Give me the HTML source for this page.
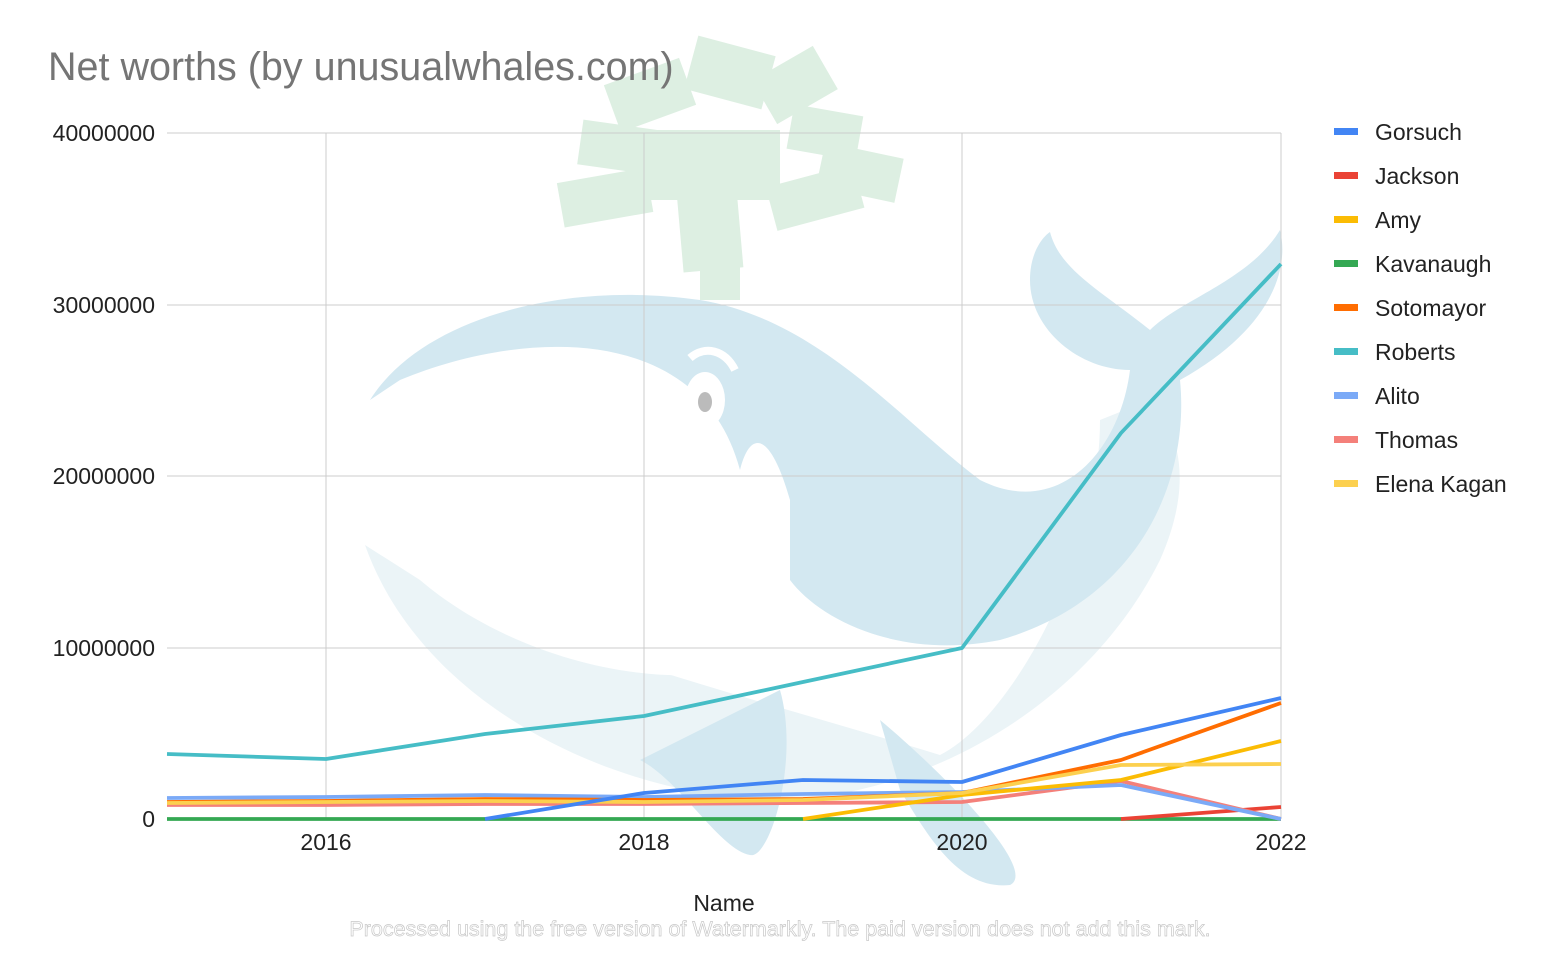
<!DOCTYPE html>
<html><head><meta charset="utf-8"><style>
html,body{margin:0;padding:0;background:#fff;}
svg{display:block;font-family:"Liberation Sans",Arial,sans-serif;}
</style></head><body>
<svg width="1560" height="964" viewBox="0 0 1560 964" xmlns="http://www.w3.org/2000/svg">
<rect width="1560" height="964" fill="#fff"/>
<g>
  <path d="M365 545 C420 700 600 790 760 800 C900 805 1080 720 1160 560 C1200 470 1170 420 1150 400 L1100 420 C1100 560 1010 720 940 755 C760 700 560 650 420 580 Z" fill="#ebf4f7"/>
  <path d="M370 400 C420 320 560 280 700 300 C820 320 900 420 980 480 C1060 520 1120 450 1130 370 C1080 370 1030 330 1030 280 C1030 250 1045 235 1050 232 C1060 270 1100 290 1150 330 C1180 300 1250 280 1280 230 C1290 270 1270 330 1180 380 C1190 480 1140 600 1000 640 C900 660 820 620 790 580 L790 500 C770 430 750 430 740 470 C700 320 520 330 400 380 Z" fill="#d3e8f1"/>
  <path d="M400 400 C470 370 560 380 640 440 C680 480 740 480 760 470 C760 580 760 650 700 675 C600 680 490 640 420 580 C395 510 395 450 400 400 Z" fill="#fff"/>
  <path d="M780 690 C800 760 770 860 750 855 C720 850 680 780 640 760 Z" fill="#d3e8f1"/>
  <path d="M880 720 C940 770 1040 870 1010 885 C960 890 930 840 900 790 Z" fill="#d3e8f1"/>
  <ellipse cx="705" cy="400" rx="20" ry="28" fill="#fff"/>
  <ellipse cx="705" cy="402" rx="7" ry="10" fill="#bbb"/>
  <path d="M690 358 C705 345 725 350 735 370" stroke="#fff" stroke-width="8" fill="none"/>
  <g fill="#ddefe2">
    <rect x="560" y="175" width="90" height="45" transform="rotate(-10 605 197)"/>
    <rect x="580" y="125" width="80" height="45" transform="rotate(8 620 147)"/>
    <rect x="610" y="70" width="80" height="50" transform="rotate(-20 650 95)"/>
    <rect x="690" y="45" width="80" height="55" transform="rotate(15 730 72)"/>
    <rect x="760" y="60" width="70" height="50" transform="rotate(-30 795 85)"/>
    <rect x="790" y="110" width="70" height="45" transform="rotate(10 825 132)"/>
    <rect x="820" y="150" width="80" height="45" transform="rotate(12 860 172)"/>
    <rect x="770" y="175" width="90" height="45" transform="rotate(-15 815 197)"/>
    <rect x="680" y="190" width="60" height="80" transform="rotate(-5 710 230)"/>
    <rect x="640" y="130" width="140" height="70"/>
    <rect x="700" y="240" width="40" height="60"/>
  </g>
</g>
<g stroke="#ccc" stroke-width="1">
  <line x1="167" y1="133" x2="1281" y2="133"/>
  <line x1="167" y1="305" x2="1281" y2="305"/>
  <line x1="167" y1="476" x2="1281" y2="476"/>
  <line x1="167" y1="648" x2="1281" y2="648"/>
  <line x1="326" y1="133" x2="326" y2="819"/>
  <line x1="644" y1="133" x2="644" y2="819"/>
  <line x1="962" y1="133" x2="962" y2="819"/>
  <line x1="1281" y1="133" x2="1281" y2="819"/>
</g>
<line x1="167" y1="819" x2="1281" y2="819" stroke="#333" stroke-width="1"/>
<text x="48" y="80" font-size="39.5" fill="#757575">Net worths (by unusualwhales.com)</text>
<g font-size="23" fill="#222" text-anchor="end">
  <text x="155" y="141">40000000</text>
  <text x="155" y="313">30000000</text>
  <text x="155" y="484">20000000</text>
  <text x="155" y="656">10000000</text>
  <text x="155" y="827">0</text>
</g>
<g font-size="23" fill="#222" text-anchor="middle">
  <text x="326" y="850">2016</text>
  <text x="644" y="850">2018</text>
  <text x="962" y="850">2020</text>
  <text x="1281" y="850">2022</text>
  <text x="724" y="911">Name</text>
</g>
<text x="780" y="936" font-size="21.5" fill="#fff" stroke="#c8c8c8" stroke-width="0.7" text-anchor="middle">Processed using the free version of Watermarkly. The paid version does not add this mark.</text>
<g fill="none" stroke-width="3.8" stroke-linejoin="round">
  <polyline stroke="#34a853" points="167,819 1281,819"/>
  <polyline stroke="#ea4335" points="1121,819 1281,807"/>
  <polyline stroke="#f4807a" points="167,805 326,805 485,804 644,804 803,803 962,802 1121,781 1281,819"/>
  <polyline stroke="#7baaf7" points="167,798 326,797 485,795 644,797 803,794 962,792 1121,785 1281,819"/>
  <polyline stroke="#ff6d01" points="167,802 326,801 485,799 644,800 803,799 962,793 1121,760 1281,703"/>
  <polyline stroke="#fbbc04" points="803,819 962,795 1121,780 1281,741"/>
  <polyline stroke="#fcd04f" points="167,803 326,802 485,801 644,802 803,800 962,793 1121,765 1281,764"/>
  <polyline stroke="#4285f4" points="485,819 644,793 803,780 962,782 1121,735 1281,698"/>
  <polyline stroke="#46bdc6" points="167,754 326,759 485,734 644,716 803,682 962,648 1121,433 1281,264"/>
</g>
<g font-size="23" fill="#222">
  <rect x="1334" y="128" width="24" height="7" fill="#4285f4"/><text x="1375" y="140">Gorsuch</text>
  <rect x="1334" y="172" width="24" height="7" fill="#ea4335"/><text x="1375" y="184">Jackson</text>
  <rect x="1334" y="216" width="24" height="7" fill="#fbbc04"/><text x="1375" y="228">Amy</text>
  <rect x="1334" y="260" width="24" height="7" fill="#34a853"/><text x="1375" y="272">Kavanaugh</text>
  <rect x="1334" y="304" width="24" height="7" fill="#ff6d01"/><text x="1375" y="316">Sotomayor</text>
  <rect x="1334" y="348" width="24" height="7" fill="#46bdc6"/><text x="1375" y="360">Roberts</text>
  <rect x="1334" y="392" width="24" height="7" fill="#7baaf7"/><text x="1375" y="404">Alito</text>
  <rect x="1334" y="436" width="24" height="7" fill="#f4807a"/><text x="1375" y="448">Thomas</text>
  <rect x="1334" y="480" width="24" height="7" fill="#fcd04f"/><text x="1375" y="492">Elena Kagan</text>
</g>
</svg>
</body></html>
